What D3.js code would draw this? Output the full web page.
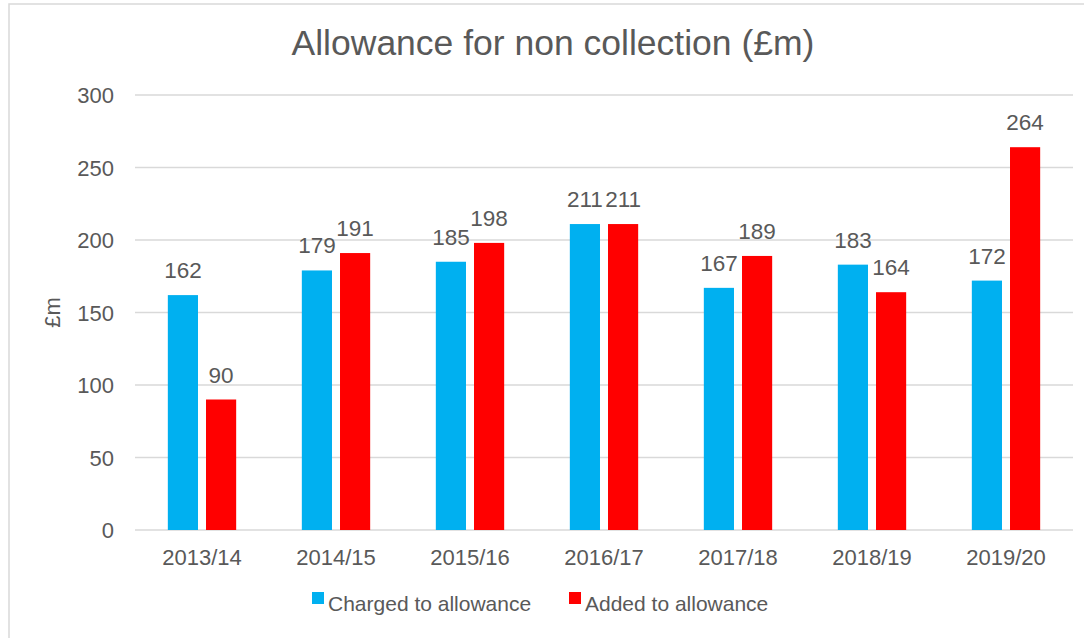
<!DOCTYPE html>
<html>
<head>
<meta charset="utf-8">
<script src="https://cdn.jsdelivr.net/npm/d3@7"></script>
<style>
  body { margin: 0; background: #fff; }
  svg text { font-family: "Liberation Sans", Arial, sans-serif; fill: #595959; }
</style>
</head>
<body>
<div id="chart"></div>
<script>
// data
let years = ["2013/14", "2014/15", "2015/16", "2016/17", "2017/18", "2018/19", "2019/20"];
let charged = [162, 179, 185, 211, 167, 183, 172];
let added = [90, 191, 198, 211, 189, 164, 264];
let seriesNames = ["Charged to allowance", "Added to allowance"];
let seriesColors = ["#00B0F0", "#FF0000"];
let yTicks = [0, 50, 100, 150, 200, 250, 300];

let width = 1084, height = 638;
let margin = {top: 95, right: 11, bottom: 108, left: 135};

let svg = d3.select("#chart").append("svg")
    .attr("width", width)
    .attr("height", height);

// outer chart frame (right/bottom run off the picture)
svg.append("rect")
    .attr("x", 9).attr("y", 4)
    .attr("width", 1100).attr("height", 700)
    .attr("fill", "none")
    .attr("stroke", "#d9d9d9")
    .attr("stroke-width", 1.5);

let x0 = d3.scaleBand()
    .domain(years)
    .range([margin.left, width - margin.right])
    .paddingInner(0.49)
    .paddingOuter(0.245);

let x1 = d3.scaleBand()
    .domain([0, 1])
    .range([0, x0.bandwidth()])
    .paddingInner(0.21);

let y = d3.scaleLinear()
    .domain([0, 300])
    .range([height - margin.bottom, margin.top]);

// gridlines
svg.append("g")
    .selectAll("line")
    .data(yTicks)
    .enter().append("line")
    .attr("x1", margin.left)
    .attr("x2", width - margin.right)
    .attr("y1", d => y(d))
    .attr("y2", d => y(d))
    .attr("stroke", "#d9d9d9")
    .attr("stroke-width", 1.3);

// y axis labels
let yAxis = svg.append("g")
    .attr("transform", "translate(114,0)")
    .call(d3.axisLeft(y).tickValues(yTicks).tickSize(0).tickPadding(0));
yAxis.select(".domain").remove();
yAxis.selectAll("text")
    .style("font-size", "22px")
    .attr("dy", "0.35em");

// x axis labels
let xAxis = svg.append("g")
    .attr("transform", "translate(0," + (height - margin.bottom) + ")")
    .call(d3.axisBottom(x0).tickSize(0).tickPadding(0));
xAxis.select(".domain").remove();
xAxis.selectAll("text")
    .attr("y", 35)
    .attr("dy", 0)
    .style("font-size", "22px");

let rows = years.map((yr, i) => ({year: yr, values: [charged[i], added[i]]}));

let groups = svg.append("g")
    .selectAll("g")
    .data(rows)
    .enter().append("g")
    .attr("transform", d => "translate(" + x0(d.year) + ",0)");

groups.selectAll("rect")
    .data(d => d.values)
    .enter().append("rect")
    .attr("x", (d, i) => x1(i))
    .attr("width", x1.bandwidth())
    .attr("y", d => y(d))
    .attr("height", d => y(0) - y(d))
    .attr("fill", (d, i) => seriesColors[i]);

groups.selectAll("text.lbl")
    .data(d => d.values)
    .enter().append("text")
    .attr("class", "lbl")
    .attr("x", (d, i) => x1(i) + x1.bandwidth() / 2)
    .attr("y", d => y(d) - 17)
    .attr("text-anchor", "middle")
    .style("font-size", "22.5px")
    .text(d => d);

// title
svg.append("text")
    .attr("x", 553)
    .attr("y", 55)
    .attr("text-anchor", "middle")
    .style("font-size", "35.5px")
    .text("Allowance for non collection (£m)");

// y axis title
svg.append("text")
    .attr("transform", "translate(60," + y(150) + ") rotate(-90)")
    .attr("text-anchor", "middle")
    .style("font-size", "22px")
    .text("£m");

// legend
let legend = svg.append("g").attr("transform", "translate(312,604)");
let legendX = [0, 257];
seriesNames.forEach(function(name, i) {
    let g = legend.append("g").attr("transform", "translate(" + legendX[i] + ",0)");
    g.append("rect")
        .attr("x", 0).attr("y", -12)
        .attr("width", 12).attr("height", 12)
        .attr("fill", seriesColors[i]);
    g.append("text")
        .attr("x", 16)
        .attr("y", 7)
        .style("font-size", "21px")
        .text(name);
});
</script>
</body>
</html>
